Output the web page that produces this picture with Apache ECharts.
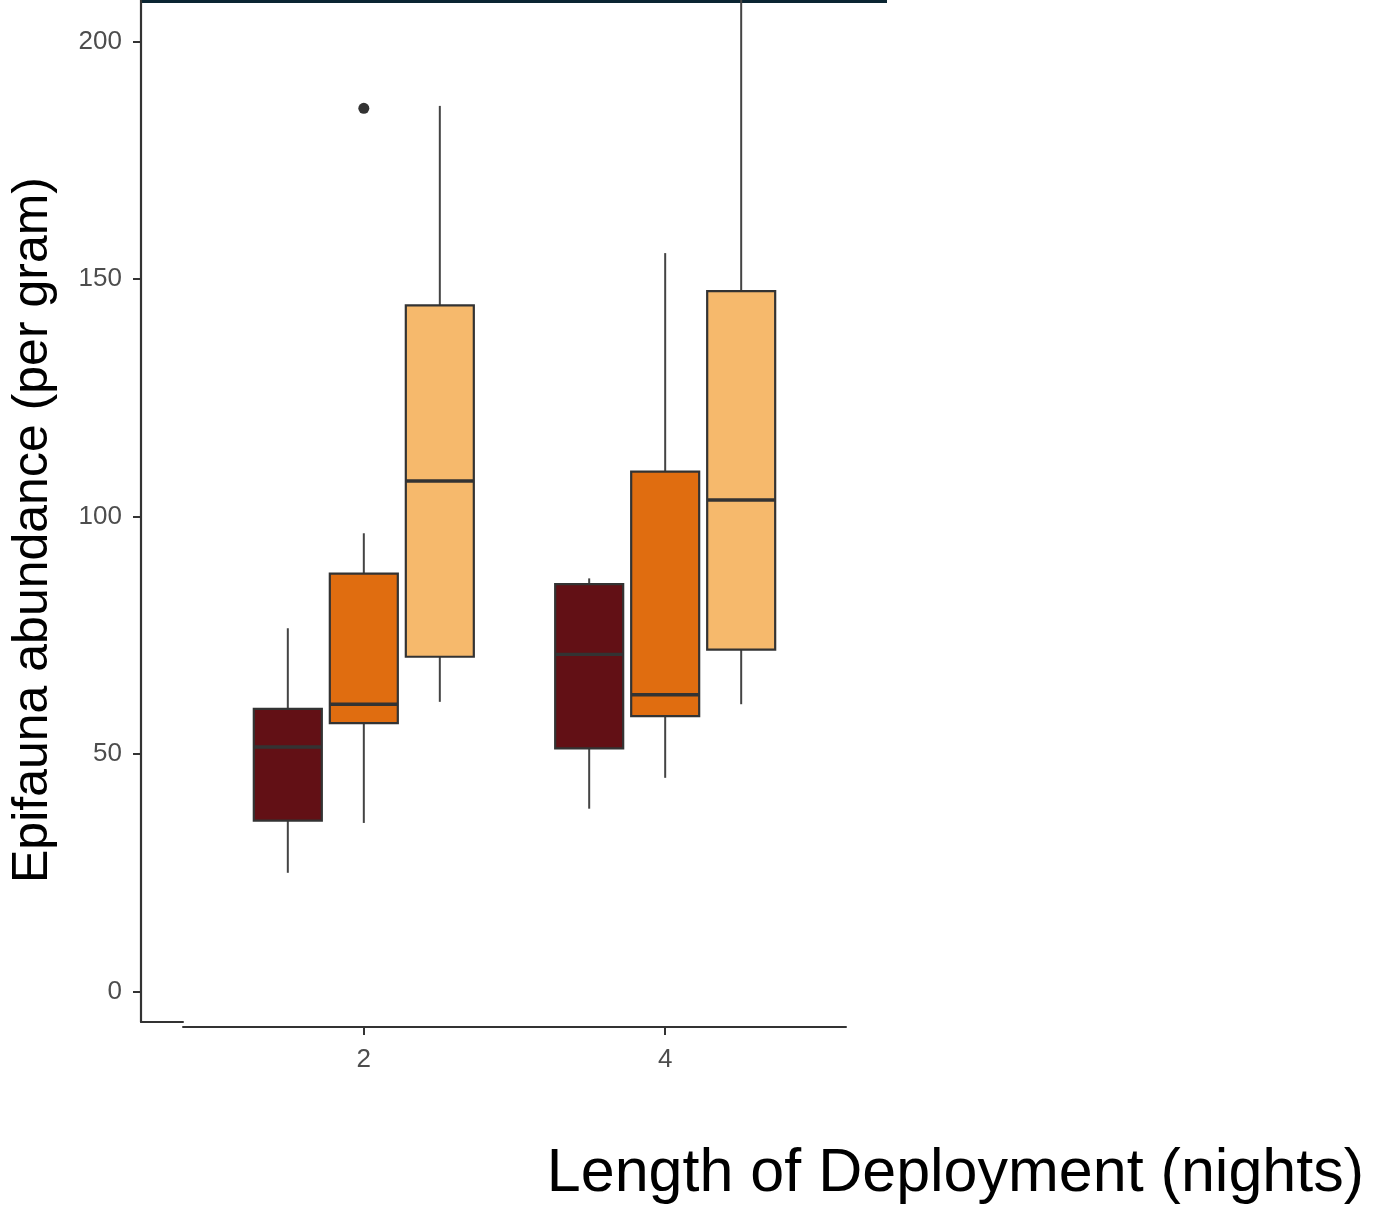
<!DOCTYPE html>
<html><head><meta charset="utf-8">
<script src="https://cdn.jsdelivr.net/npm/echarts@6/dist/echarts.min.js"></script>
<style>html,body{margin:0;padding:0;background:#fff}#c{width:1373px;height:1206px}</style>
</head><body><div id="c"></div>
<script>
// ---- data ----
const categories = ['2', '4'];
// [min, Q1, median, Q3, max] per category
const darkStats  = [[25, 36, 51.5, 59.5, 76.5], [38.5, 51.2, 71, 85.8, 87]];
const midStats   = [[35.5, 56.5, 60.5, 88, 96.5], [45, 58, 62.5, 109.5, 155.5]];
const lightStats = [[61, 70.5, 107.5, 144.5, 186.5], [60.5, 72, 103.5, 147.5, 210]];
// outliers: [categoryIndex, value] for the middle series
const midOutliers = [[0, 186]];
const yTicks = [0, 50, 100, 150, 200];
const xTitle = 'Length of Deployment (nights)';
const yTitle = 'Epifauna abundance (per gram)';

// ---- style ----
const fills = ['#621015', '#e06d10', '#f6b96c'];
const offsets = [-76, 0, 76];
const BOX_W = 68;
const Y_MIN = -6.42, Y_MAX = 208.8;

function toData(stats) {
  return stats.map((s, i) => [Number(categories[i])].concat(s));
}
function makeRender(offset, fill) {
  return function (params, api) {
    const x = api.value(0);
    const pMin = api.coord([x, api.value(1)]);
    const pQ1 = api.coord([x, api.value(2)]);
    const pMed = api.coord([x, api.value(3)]);
    const pQ3 = api.coord([x, api.value(4)]);
    const pMax = api.coord([x, api.value(5)]);
    const cx = pMed[0] + offset;
    const half = BOX_W / 2;
    const wStyle = { stroke: '#444444', lineWidth: 2 };
    return {
      type: 'group',
      children: [
        { type: 'line', shape: { x1: cx, y1: pQ3[1], x2: cx, y2: pMax[1] }, style: wStyle },
        { type: 'line', shape: { x1: cx, y1: pQ1[1], x2: cx, y2: pMin[1] }, style: wStyle },
        { type: 'rect', shape: { x: cx - half, y: pQ3[1], width: BOX_W, height: pQ1[1] - pQ3[1] },
          style: { fill: fill, stroke: '#333333', lineWidth: 2.2 } },
        { type: 'line', shape: { x1: cx - half, y1: pMed[1], x2: cx + half, y2: pMed[1] },
          style: { stroke: '#333333', lineWidth: 3.4 } }
      ]
    };
  };
}

const chart = echarts.init(document.getElementById('c'));
const statsList = [darkStats, midStats, lightStats];

chart.setOption({
  animation: false,
  backgroundColor: '#ffffff',
  grid: [
    { left: 141, top: 0, width: 42, height: 1022 },
    { left: 183, top: 0, width: 663, height: 1022 }
  ],
  xAxis: [
    { gridIndex: 0, type: 'value', min: 0, max: 1,
      axisLine: { show: true, onZero: false, lineStyle: { color: '#333', width: 2 } },
      axisTick: { show: false }, axisLabel: { show: false }, splitLine: { show: false } },
    { gridIndex: 1, type: 'value', min: 0.8, max: 5.2, offset: 5,
      axisLine: { show: true, onZero: false, lineStyle: { color: '#333', width: 2 } },
      axisTick: { show: true, customValues: categories.map(Number), length: 8, lineStyle: { color: '#333', width: 2 } },
      axisLabel: { show: true, customValues: categories.map(Number), margin: 20,
        formatter: v => categories.find(c => Number(c) === v) || '',
        color: '#4d4d4d', fontSize: 26, fontFamily: 'Liberation Sans' },
      splitLine: { show: false } }
  ],
  yAxis: [
    { gridIndex: 0, type: 'value', min: Y_MIN, max: Y_MAX,
      axisLine: { show: true, onZero: false, lineStyle: { color: '#333', width: 2.2 } },
      axisTick: { show: true, customValues: yTicks, length: 8, lineStyle: { color: '#333', width: 2 } },
      axisLabel: { show: true, customValues: yTicks, margin: 19,
        color: '#4d4d4d', fontSize: 26, fontFamily: 'Liberation Sans' },
      splitLine: { show: false } },
    { gridIndex: 1, type: 'value', min: Y_MIN, max: Y_MAX, show: false, splitLine: { show: false } }
  ],
  series: statsList.map((st, k) => ({
    type: 'custom',
    xAxisIndex: 1, yAxisIndex: 1,
    clip: true,
    encode: { x: 0, y: [1, 2, 3, 4, 5] },
    data: toData(st),
    renderItem: makeRender(offsets[k], fills[k])
  })).concat([{
    type: 'scatter', xAxisIndex: 1, yAxisIndex: 1,
    symbol: 'circle', symbolSize: 11,
    itemStyle: { color: '#333333', opacity: 1 },
    data: midOutliers.map(o => [Number(categories[o[0]]), o[1]])
  }]),
  graphic: [
    { type: 'rect', shape: { x: 141, y: 0, width: 746, height: 3 }, style: { fill: '#0b2532' } },
    { type: 'text', x: 33, y: 530, rotation: Math.PI / 2,
      style: { text: yTitle, align: 'center', verticalAlign: 'middle',
        font: '50px "Liberation Sans"', fill: '#000' } },
    { type: 'text', x: 1364, y: 1174,
      style: { text: xTitle, align: 'right', verticalAlign: 'middle',
        font: '61px "Liberation Sans"', fill: '#000' } }
  ]
});
</script>
</body></html>
